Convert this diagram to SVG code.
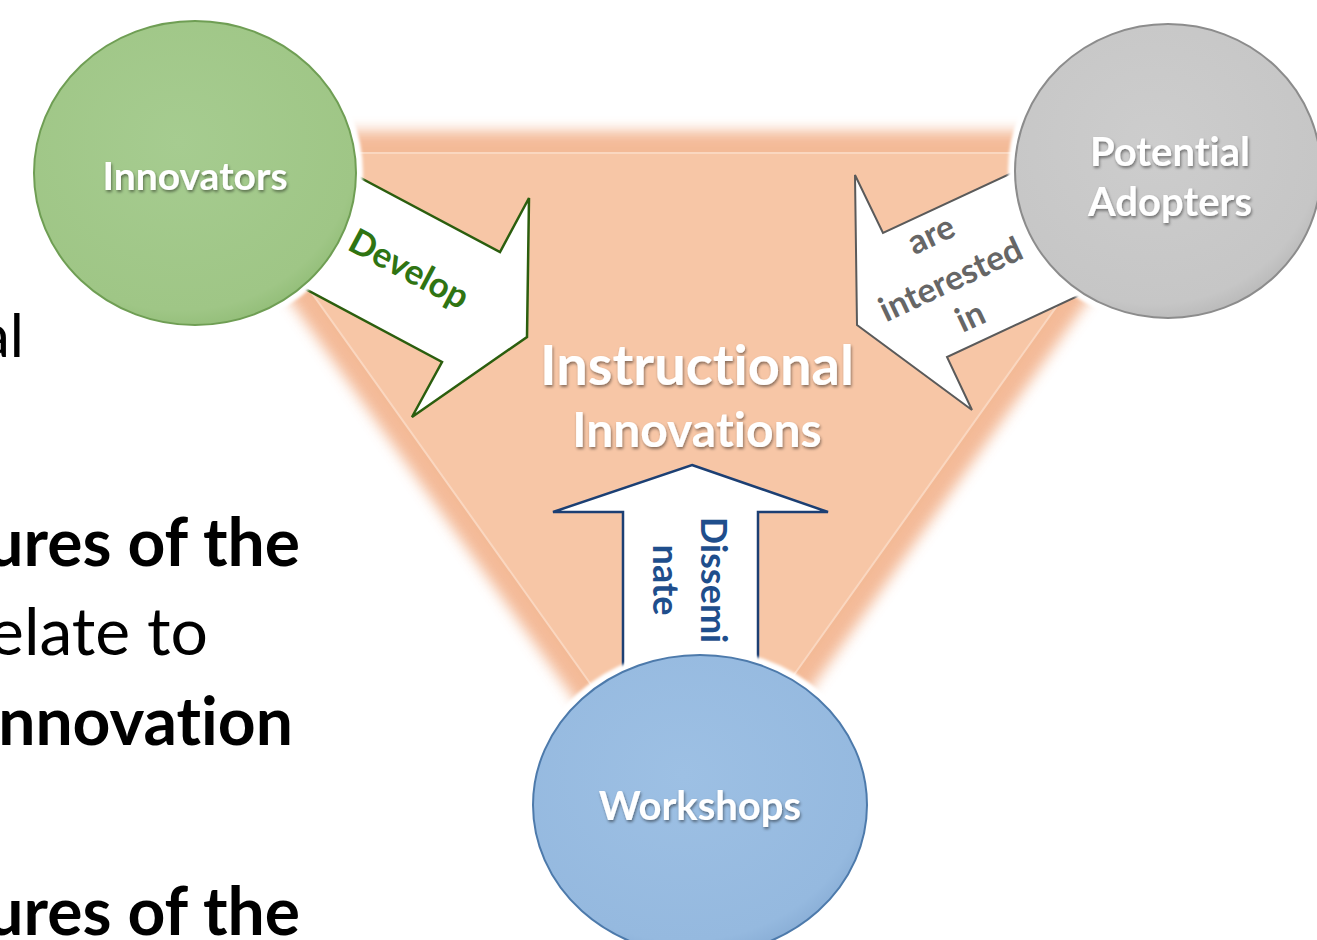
<svg xmlns="http://www.w3.org/2000/svg" width="1317" height="940" viewBox="0 0 1317 940">
  <defs>
    <filter id="soft" x="-20%" y="-20%" width="140%" height="140%">
      <feGaussianBlur stdDeviation="7"/>
    </filter>
    <filter id="label-shadow" x="-20%" y="-40%" width="140%" height="180%">
      <feDropShadow dx="1" dy="2" stdDeviation="1.6" flood-color="#000" flood-opacity="0.45"/>
    </filter>
    <filter id="rim" x="-10%" y="-10%" width="120%" height="120%">
      <feGaussianBlur stdDeviation="1.5"/>
    </filter>
    <radialGradient id="g-green" cx="45%" cy="40%" r="65%">
      <stop offset="0" stop-color="#a6cc90"/>
      <stop offset="0.85" stop-color="#9fc686"/>
      <stop offset="1" stop-color="#8dba72"/>
    </radialGradient>
    <radialGradient id="g-grey" cx="45%" cy="40%" r="65%">
      <stop offset="0" stop-color="#cdcdcd"/>
      <stop offset="0.85" stop-color="#c6c6c6"/>
      <stop offset="1" stop-color="#b3b3b3"/>
    </radialGradient>
    <radialGradient id="g-blue" cx="45%" cy="40%" r="65%">
      <stop offset="0" stop-color="#9dc0e4"/>
      <stop offset="0.85" stop-color="#95b9df"/>
      <stop offset="1" stop-color="#84a9d2"/>
    </radialGradient>
  </defs>
  <style>
    text { font-variant-ligatures: none; font-feature-settings: "liga" 0; }
    .side { font-family: Lato, "Open Sans", "Liberation Sans", sans-serif; fill: #000; }
    .b { font-weight: 700; }
    .node-label { font-family: Lato, "Open Sans", "Liberation Sans", sans-serif; font-weight: 700; fill: #fff; text-anchor: middle; filter: url(#label-shadow); }
    .arrow-label { font-family: Lato, "Open Sans", "Liberation Sans", sans-serif; font-weight: 700; text-anchor: middle; }
    .rim { fill: #fff; stroke: #fff; stroke-width: 14; filter: url(#rim); }
  </style>

  <rect width="1317" height="940" fill="#fff"/>

  <!-- text running in from the left edge -->
  <g id="side-text">
    <text class="side" x="24" y="357" font-size="60" text-anchor="end">al</text>
    <text class="side b" x="300" y="566" font-size="66" text-anchor="end">ures of the</text>
    <text class="side" x="208" y="655" font-size="66" text-anchor="end">elate to</text>
    <text class="side b" x="293" y="745" font-size="66" text-anchor="end">nnovation</text>
    <text class="side b" x="300" y="935" font-size="66" text-anchor="end">ures of the</text>
  </g>

  <!-- central triangle -->
  <g id="instructional-innovations">
    <polygon points="212,153 1166,153 689,822" fill="none" stroke="#f2ae86" stroke-width="44" stroke-linejoin="miter" opacity="0.85" filter="url(#soft)"/>
    <polygon points="212,153 1166,153 689,822" fill="#f7c6a6" stroke="#fad7c0" stroke-width="2"/>
    <text class="node-label" x="697" y="385" font-size="56">Instructional</text>
    <text class="node-label" x="697" y="447" font-size="48">Innovations</text>
  </g>

  <!-- connectors -->
  <g id="connectors">
    <g id="develop">
      <polygon points="310,151 500,252 529,198 527,337 412,417 442,362 255,262" fill="#fff" stroke="#2b5e0e" stroke-width="2.5" stroke-linejoin="miter"/>
      <text class="arrow-label" transform="translate(409,269) rotate(28)" y="12" font-size="35" fill="#2f7412">Develop</text>
    </g>
    <g id="are-interested-in">
      <polygon points="1070,146 883,233 855,175 857,325 972,410 947,357 1110,281" fill="#fff" stroke="#5a5a5a" stroke-width="2" stroke-linejoin="miter"/>
      <g transform="translate(951,280) rotate(-25)" font-size="34" fill="#666">
        <text class="arrow-label" x="1" y="-38">are</text>
        <text class="arrow-label" x="0" y="11">interested</text>
        <text class="arrow-label" x="2" y="53">in</text>
      </g>
    </g>
    <g id="disseminate">
      <polygon points="692,465 828,512 758,512 758,700 623,700 623,512 553,512" fill="#fff" stroke="#1c3f73" stroke-width="2.5" stroke-linejoin="miter"/>
      <g transform="translate(689,580) rotate(90)" font-size="36" fill="#1f4e8c">
        <text class="arrow-label" x="0" y="-12">Dissemi</text>
        <text class="arrow-label" x="0" y="36">nate</text>
      </g>
    </g>
  </g>

  <!-- nodes -->
  <g id="innovators">
    <ellipse class="rim" cx="195" cy="173" rx="161" ry="152"/>
    <ellipse cx="195" cy="173" rx="161" ry="152" fill="url(#g-green)" stroke="#6f9e54" stroke-width="2"/>
    <text class="node-label" x="195" y="190" font-size="39">Innovators</text>
  </g>
  <g id="potential-adopters">
    <ellipse class="rim" cx="1168" cy="171" rx="153" ry="147"/>
    <ellipse cx="1168" cy="171" rx="153" ry="147" fill="url(#g-grey)" stroke="#8c8c8c" stroke-width="2"/>
    <text class="node-label" x="1170" y="166" font-size="40">Potential</text>
    <text class="node-label" x="1170" y="216" font-size="40">Adopters</text>
  </g>
  <g id="workshops">
    <ellipse class="rim" cx="700" cy="805" rx="167" ry="150"/>
    <ellipse cx="700" cy="805" rx="167" ry="150" fill="url(#g-blue)" stroke="#4d7aab" stroke-width="2"/>
    <text class="node-label" x="700" y="820" font-size="40">Workshops</text>
  </g>
</svg>
